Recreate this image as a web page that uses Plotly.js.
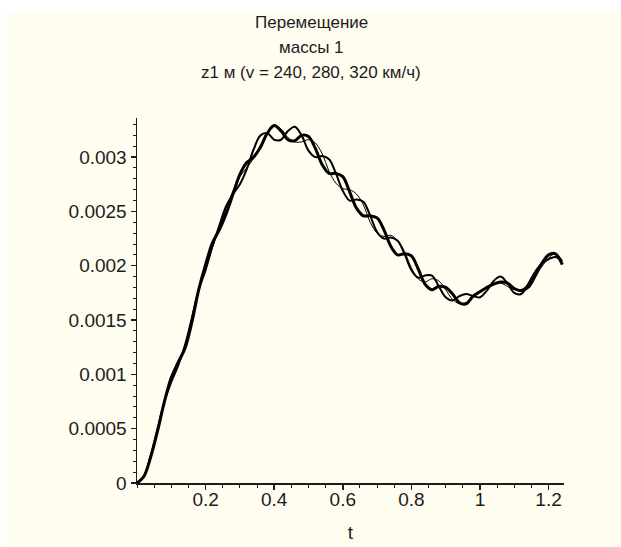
<!DOCTYPE html>
<html>
<head>
<meta charset="utf-8">
<script src="https://cdn.plot.ly/plotly-3.0.1.min.js"></script>
<style>
  html, body { margin: 0; padding: 0; background: #ffffff; width: 621px; height: 547px; overflow: hidden; }
  #chart { position: absolute; left: 7px; top: 12px; width: 614px; height: 535px; }
</style>
</head>
<body>
<div id="chart"></div>
<script>
// ---- data ----
const titleLines = ["Перемещение", "массы 1", "z1 м (v = 240, 280, 320 км/ч)"];
const xLabel = "t";

const t = [0,0.02,0.04,0.06,0.08,0.10,0.12,0.14,0.16,0.18,
           0.20,0.22,0.24,0.26,0.28,0.30,0.32,0.34,0.36,0.38,
           0.40,0.42,0.44,0.46,0.48,0.50,0.52,0.54,0.56,0.58,
           0.60,0.62,0.64,0.66,0.68,0.70,0.72,0.74,0.76,0.78,
           0.80,0.82,0.84,0.86,0.88,0.90,0.92,0.94,0.96,0.98,
           1.00,1.02,1.04,1.06,1.08,1.10,1.12,1.14,1.16,1.18,
           1.20,1.22,1.24];

// z1 for v = 240 km/h (thin line)
const z240 = [0,0.00006,0.00026,0.00049,0.00075,0.00093,0.00109,0.00127,0.00152,0.00178,
              0.00196,0.00217,0.00234,0.00253,0.00269,0.00282,0.00290,0.00299,0.00311,0.00323,
              0.00329,0.00326,0.00318,0.00314,0.00314,0.00316,0.00313,0.00303,0.00287,0.00276,
              0.00271,0.00270,0.00266,0.00256,0.00240,0.00230,0.00227,0.00228,0.00223,0.00213,
              0.00198,0.00188,0.00185,0.00188,0.00186,0.00178,0.00169,0.00165,0.00166,0.00173,
              0.00176,0.00181,0.00183,0.00184,0.00181,0.00178,0.00178,0.00183,0.00191,0.00199,
              0.00207,0.00211,0.00205];

// z1 for v = 280 km/h (medium line)
const z280 = [0,0.00006,0.00025,0.00050,0.00075,0.00093,0.00108,0.00127,0.00152,0.00178,
              0.00196,0.00218,0.00237,0.00255,0.00266,0.00275,0.00289,0.00307,0.00320,0.00322,
              0.00316,0.00316,0.00324,0.00328,0.00320,0.00306,0.00300,0.00301,0.00298,0.00285,
              0.00269,0.00260,0.00261,0.00259,0.00246,0.00231,0.00225,0.00226,0.00223,0.00211,
              0.00196,0.00189,0.00191,0.00191,0.00181,0.00171,0.00168,0.00172,0.00174,0.00172,
              0.00171,0.00177,0.00186,0.00190,0.00184,0.00175,0.00174,0.00183,0.00194,0.00202,
              0.00206,0.00208,0.00204];

// z1 for v = 320 km/h (thick line)
const z320 = [0,0.00006,0.00024,0.00048,0.00075,0.00097,0.00111,0.00124,0.00148,0.00178,
              0.00201,0.00221,0.00233,0.00248,0.00266,0.00284,0.00295,0.00300,0.00309,0.00322,
              0.00329,0.00324,0.00316,0.00315,0.00320,0.00319,0.00308,0.00293,0.00285,0.00285,
              0.00282,0.00268,0.00253,0.00246,0.00246,0.00244,0.00233,0.00218,0.00210,0.00211,
              0.00209,0.00197,0.00183,0.00178,0.00181,0.00180,0.00174,0.00166,0.00165,0.00172,
              0.00176,0.00180,0.00183,0.00185,0.00184,0.00179,0.00177,0.00180,0.00190,0.00202,
              0.00210,0.00211,0.00201];

const xTickVals = [0.2, 0.4, 0.6, 0.8, 1.0, 1.2];
const xTickText = ["0.2", "0.4", "0.6", "0.8", "1", "1.2"];
const yTickVals = [0, 0.0005, 0.001, 0.0015, 0.002, 0.0025, 0.003];
const yTickText = ["0", "0.0005", "0.001", "0.0015", "0.002", "0.0025", "0.003"];

// ---- styling ----
const cream = "rgb(255,253,240)";
const ink = "#1c1c1c";
const font = "Liberation Sans, Arial, sans-serif";

function curve(y, w) {
  return { x: t, y: y, type: "scatter", mode: "lines",
           line: { color: "#000000", width: w, shape: "spline", smoothing: 1.0 },
           hoverinfo: "skip", showlegend: false };
}

const data = [curve(z240, 1), curve(z280, 2), curve(z320, 3)];

const titleY = [1.263, 1.1945, 1.126];
const annotations = titleLines.map((s, i) => ({
  text: s, xref: "paper", yref: "paper", x: 0.4075, y: titleY[i],
  xanchor: "center", yanchor: "middle", showarrow: false,
  font: { family: font, size: 17, color: ink }
}));

const layout = {
  width: 614, height: 535,
  margin: { l: 130, r: 57, t: 106, b: 64, pad: 0 },
  paper_bgcolor: cream, plot_bgcolor: cream,
  showlegend: false,
  annotations: annotations,
  xaxis: {
    range: [0, 1.245], showgrid: false, zeroline: false,
    showline: true, linecolor: ink, linewidth: 1.5,
    tickmode: "array", tickvals: xTickVals, ticktext: xTickText,
    ticks: "outside", ticklen: 5, tickwidth: 1.5, tickcolor: ink,
    ticklabelstandoff: -6,
    tickfont: { family: font, size: 19, color: ink },
    minor: { dtick: 0.05, tick0: 0, ticks: "outside", ticklen: 3, tickwidth: 1, tickcolor: ink, showgrid: false },
    title: { text: xLabel, font: { family: font, size: 19, color: ink }, standoff: 16 }
  },
  yaxis: {
    range: [0, 0.00336], showgrid: false, zeroline: false,
    showline: true, linecolor: ink, linewidth: 1.5,
    tickmode: "array", tickvals: yTickVals, ticktext: yTickText,
    ticks: "outside", ticklen: 5, tickwidth: 1.5, tickcolor: ink,
    tickfont: { family: font, size: 19, color: ink },
    minor: { dtick: 0.0001, tick0: 0, ticks: "outside", ticklen: 3, tickwidth: 1, tickcolor: ink, showgrid: false }
  }
};

Plotly.newPlot("chart", data, layout, { displayModeBar: false, staticPlot: true });
</script>
</body>
</html>
